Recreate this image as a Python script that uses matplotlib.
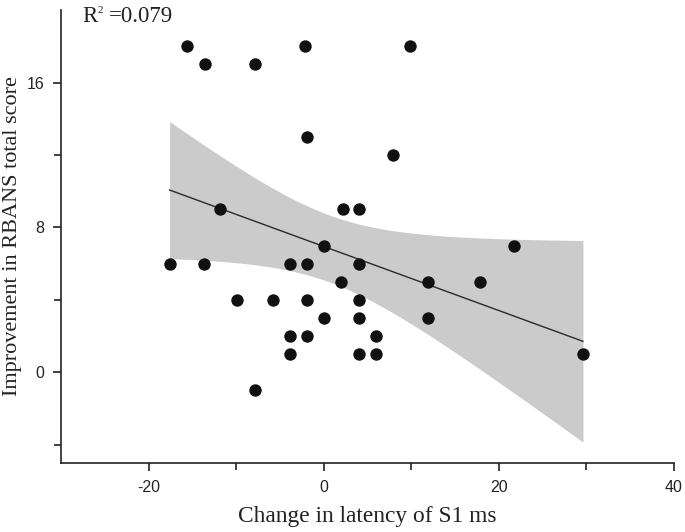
import numpy as np
import matplotlib.pyplot as plt

plt.rcParams["axes.unicode_minus"] = False

# latency change (ms) vs RBANS improvement
latency = [-15.6, -13.6, -7.8, -2.1, 9.9,
           -1.9, 7.9,
           -11.8, 2.2, 4.0,
           0.0, 21.7,
           -17.6, -13.7, -3.9, -1.9, 4.0,
           2.0, 11.9, 17.8,
           -9.9, -5.8, -1.9, 4.0,
           0.0, 4.0, 11.9,
           -3.9, -1.9, 6.0,
           -3.9, 4.0, 6.0, 29.6,
           -7.8]
rbans = [18, 17, 17, 18, 18,
         13, 12,
         9, 9, 9,
         7, 7,
         6, 6, 6, 6, 6,
         5, 5, 5,
         4, 4, 4, 4,
         3, 3, 3,
         2, 2, 2,
         1, 1, 1, 1,
         -1]
# regression line as drawn in the figure
fit_slope = -0.177
fit_intercept = 6.95
r2_value = "=0.079"

x = np.array(latency)
y = np.array(rbans)
n = len(x)

xs = np.linspace(x.min(), x.max(), 200)
ys = fit_slope * xs + fit_intercept

# 95% confidence band (spread taken from the data)
b1, b0 = np.polyfit(x, y, 1)
resid = y - (b1 * x + b0)
s = np.sqrt((resid ** 2).sum() / (n - 2))
sxx = ((x - x.mean()) ** 2).sum()
t = 2.0345  # t(0.975, df=33)
half = t * s * np.sqrt(1.0 / n + (xs - x.mean()) ** 2 / sxx)

fig = plt.figure(figsize=(6.85, 5.32), dpi=100)
ax = fig.add_axes([0.089, 0.13, 0.895, 0.851])

ax.fill_between(xs, ys - half, ys + half, color="#cbcbcb", lw=0, zorder=1)
ax.plot(xs, ys, color="#2a2a2a", lw=1.0, zorder=2)
ax.scatter(x, y, s=80, color="#111111", zorder=3, linewidths=0)

ax.set_xlim(-30, 40)
ax.set_ylim(-5, 20)
ax.set_xticks([-20, 0, 20, 40])
ax.set_xticks([-10, 10, 30], minor=True)
ax.set_yticks([0, 8, 16])
ax.set_yticks([-4, 4, 12], minor=True)
ax.tick_params(which="both", direction="out", width=1.2, color="#222222",
               labelsize=11.5, labelcolor="#222222", pad=6)
ax.tick_params(which="major", length=6)
ax.tick_params(which="minor", length=5)
for lab in ax.get_xticklabels() + ax.get_yticklabels():
    lab.set_family("Liberation Sans")

ax.spines["top"].set_visible(False)
ax.spines["right"].set_visible(False)
for side in ["left", "bottom"]:
    ax.spines[side].set_linewidth(1.2)
    ax.spines[side].set_color("#222222")

ax.set_xlabel("Change in latency of S1 ms", family="Liberation Serif",
              fontsize=16.8, color="#222222", labelpad=8)
ax.set_ylabel("Improvement in RBANS total score", family="Liberation Serif",
              fontsize=16, color="#222222", labelpad=3)

# R^2 label: small raised "2"
ax.text(0.034, 0.985, "R", transform=ax.transAxes, family="Liberation Serif",
        fontsize=16.5, color="#222222", va="center", ha="left")
ax.text(0.060, 1.0, "2", transform=ax.transAxes, family="Liberation Serif",
        fontsize=8, color="#222222", va="center", ha="left")
ax.text(0.078, 0.985, r2_value, transform=ax.transAxes, family="Liberation Serif",
        fontsize=16.5, color="#222222", va="center", ha="left")

fig.savefig("out.png", dpi=100)
